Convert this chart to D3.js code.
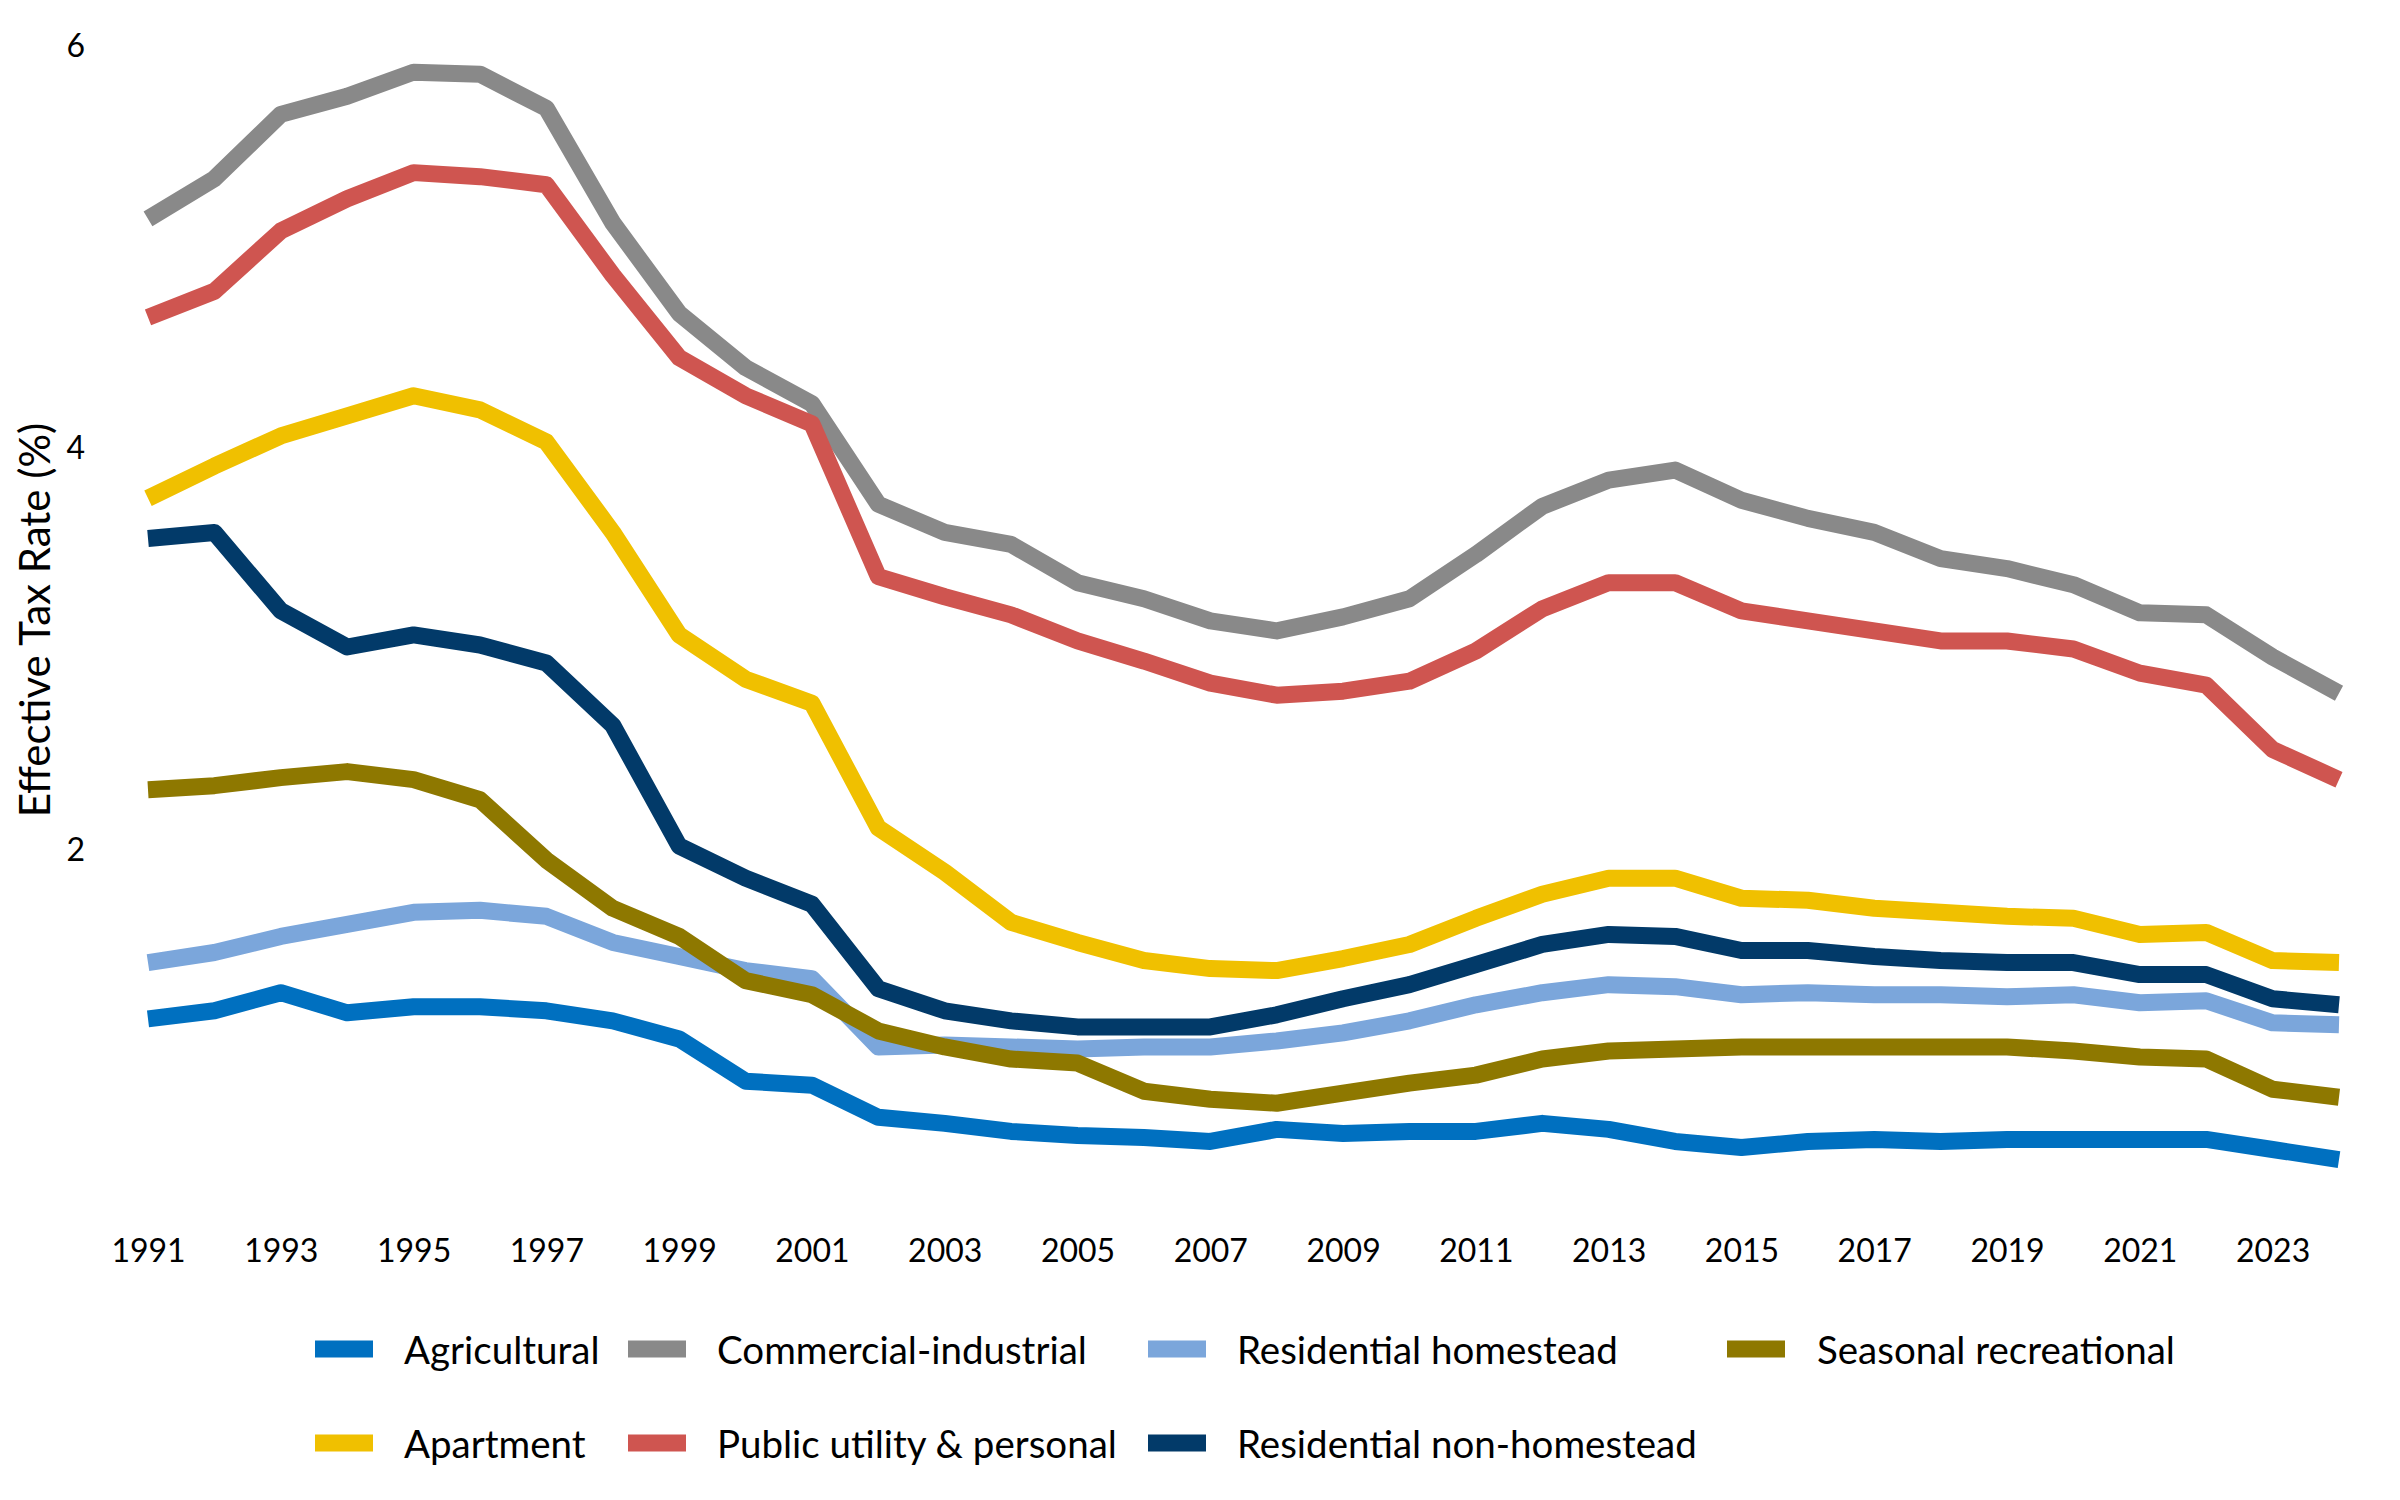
<!DOCTYPE html>
<html>
<head>
<meta charset="utf-8">
<script src="https://cdn.jsdelivr.net/npm/d3@7"></script>
<style>
  html, body { margin: 0; padding: 0; background: #fff; }
  svg { display: block; font-family: Lato, "Open Sans", sans-serif; }
</style>
</head>
<body>
<svg id="chart" width="2400" height="1500"></svg>
<script>
// ---- data ----
const years = d3.range(1991, 2025);
const xTickYears = [1991,1993,1995,1997,1999,2001,2003,2005,2007,2009,2011,2013,2015,2017,2019,2021,2023];
const yTickValues = [2, 4, 6];

const agricultural = [1.16,1.20,1.29,1.19,1.22,1.22,1.20,1.15,1.06,0.85,0.83,0.67,0.64,0.60,0.58,0.57,0.55,0.61,0.59,0.60,0.60,0.64,0.61,0.55,0.52,0.55,0.56,0.55,0.56,0.56,0.56,0.56,0.51,0.46];
const commercialIndustrial = [5.14,5.34,5.66,5.75,5.87,5.86,5.69,5.12,4.67,4.40,4.22,3.72,3.58,3.52,3.33,3.25,3.14,3.09,3.16,3.25,3.47,3.71,3.84,3.89,3.74,3.65,3.58,3.45,3.40,3.32,3.18,3.17,2.96,2.78];
const residentialHomestead = [1.44,1.49,1.57,1.63,1.69,1.70,1.67,1.54,1.47,1.40,1.36,1.02,1.03,1.02,1.01,1.02,1.02,1.05,1.09,1.15,1.23,1.29,1.33,1.32,1.28,1.29,1.28,1.28,1.27,1.28,1.24,1.25,1.14,1.13];
const seasonalRecreational = [2.30,2.32,2.36,2.39,2.35,2.25,1.95,1.71,1.57,1.35,1.28,1.10,1.02,0.96,0.94,0.80,0.76,0.74,0.79,0.84,0.88,0.96,1.00,1.01,1.02,1.02,1.02,1.02,1.02,1.00,0.97,0.96,0.81,0.77];
const apartment = [3.75,3.91,4.06,4.16,4.26,4.19,4.03,3.58,3.07,2.85,2.73,2.11,1.89,1.64,1.54,1.45,1.41,1.40,1.46,1.53,1.66,1.78,1.86,1.86,1.76,1.75,1.71,1.69,1.67,1.66,1.58,1.59,1.45,1.44];
const publicUtility = [4.65,4.78,5.08,5.24,5.37,5.35,5.31,4.86,4.45,4.26,4.12,3.36,3.26,3.17,3.04,2.94,2.83,2.77,2.79,2.84,2.99,3.20,3.33,3.33,3.19,3.14,3.09,3.04,3.04,3.00,2.88,2.82,2.50,2.35];
const residentialNonHomestead = [3.55,3.58,3.19,3.01,3.07,3.02,2.93,2.62,2.02,1.86,1.73,1.31,1.20,1.15,1.12,1.12,1.12,1.18,1.26,1.33,1.43,1.53,1.58,1.57,1.50,1.50,1.47,1.45,1.44,1.44,1.38,1.38,1.26,1.23];

const seriesNames = ["Agricultural","Commercial-industrial","Residential homestead","Seasonal recreational","Apartment","Public utility & personal","Residential non-homestead"];
const seriesColors = ["#0070C0","#898989","#7BA6DB","#8E7800","#F0C000","#CF5550","#023A69"];
const seriesValues = [agricultural, commercialIndustrial, residentialHomestead, seasonalRecreational, apartment, publicUtility, residentialNonHomestead];

// ---- layout ----
const svg = d3.select("#chart");
const x = d3.scaleLinear().domain([1991, 2024]).range([148, 2339]);
const y = d3.scaleLinear().domain([0, 6]).range([1252, 46]);
const lineWidth = 17;

const line = d3.line().x((d, i) => x(years[i])).y(d => y(d));

svg.append("g").selectAll("path")
  .data(seriesValues)
  .join("path")
  .attr("d", d => line(d))
  .attr("fill", "none")
  .attr("stroke", (d, i) => seriesColors[i])
  .attr("stroke-width", lineWidth)
  .attr("stroke-linejoin", "round");

// y axis
const yAxis = d3.axisLeft(y).tickValues(yTickValues).tickSize(0).tickPadding(0).tickFormat(d3.format("d"));
const gy = svg.append("g").attr("transform", "translate(85,0)").call(yAxis);
gy.select(".domain").remove();
gy.selectAll("text").attr("font-size", 32).attr("font-family", "Lato, sans-serif").attr("fill", "#000");

// x axis
const xAxis = d3.axisBottom(x).tickValues(xTickYears).tickSize(0).tickPadding(0).tickFormat(d3.format("d"));
const gx = svg.append("g").attr("transform", "translate(0,1239)").call(xAxis);
gx.select(".domain").remove();
gx.selectAll("text").attr("font-size", 32).attr("font-family", "Lato, sans-serif").attr("fill", "#000");

// y axis title
svg.append("text")
  .attr("transform", "translate(34,620) rotate(-90)")
  .attr("text-anchor", "middle")
  .attr("dominant-baseline", "central")
  .attr("font-size", 42)
  .attr("fill", "#000")
  .text("Effective Tax Rate (%)");

// legend
const legendRows = [1349, 1443];
const legendCols = [
  { x0: 315, x1: 373, tx: 404 },
  { x0: 628, x1: 686, tx: 717 },
  { x0: 1148, x1: 1206, tx: 1237 },
  { x0: 1727, x1: 1785, tx: 1817 }
];
const legendPos = [[0,0],[0,1],[0,2],[0,3],[1,0],[1,1],[1,2]];
const lg = svg.append("g").selectAll("g")
  .data(seriesNames.map((n, i) => ({ name: n, color: seriesColors[i], row: legendPos[i][0], col: legendPos[i][1] })))
  .join("g");
lg.append("line")
  .attr("x1", d => legendCols[d.col].x0)
  .attr("x2", d => legendCols[d.col].x1)
  .attr("y1", d => legendRows[d.row])
  .attr("y2", d => legendRows[d.row])
  .attr("stroke", d => d.color)
  .attr("stroke-width", lineWidth);
lg.append("text")
  .attr("x", d => legendCols[d.col].tx)
  .attr("y", d => legendRows[d.row])
  .attr("dominant-baseline", "central")
  .attr("font-size", 38.5)
  .attr("fill", "#000")
  .text(d => d.name);
</script>
</body>
</html>
